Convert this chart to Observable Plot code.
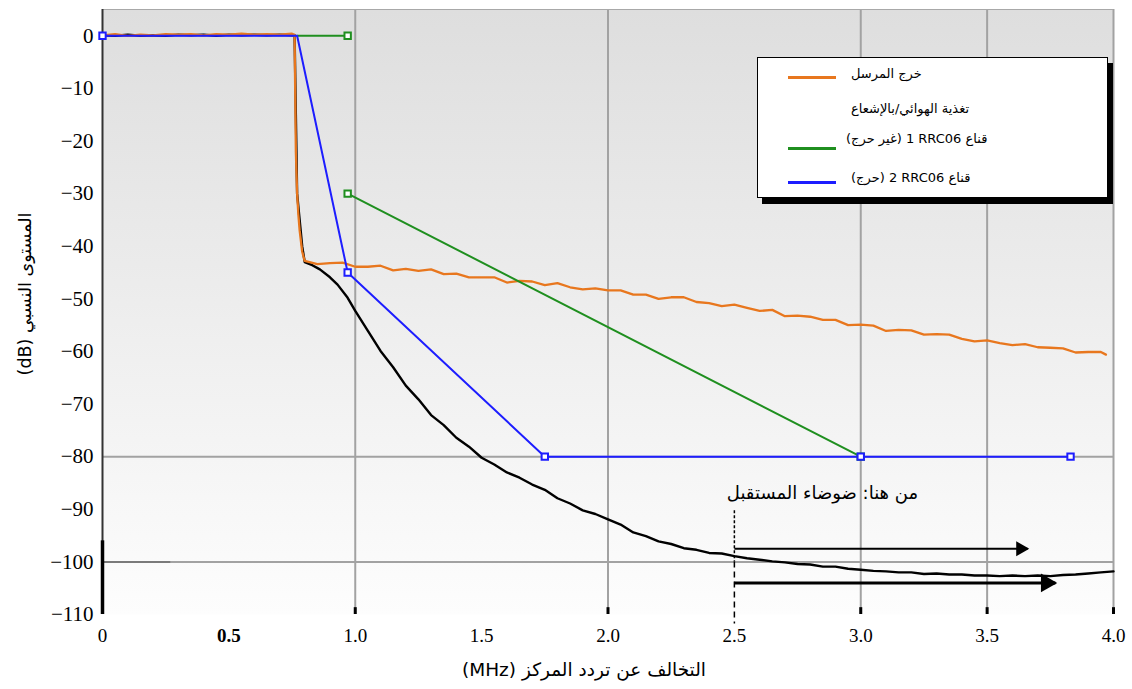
<!DOCTYPE html>
<html><head><meta charset="utf-8">
<script src="https://cdn.jsdelivr.net/npm/d3@7"></script>
<script src="https://cdn.jsdelivr.net/npm/@observablehq/plot@0.6"></script>
<style>
html,body{margin:0;padding:0;background:#fff;}
#wrap{position:relative;width:1132px;height:689px;overflow:hidden;}
#wrap svg text{font-family:"Liberation Serif","Times New Roman",serif;}
#legend{position:absolute;left:757px;top:57px;width:349px;height:139px;background:#fff;border:1px solid #000;box-shadow:5px 6px 0 #000;font-family:"DejaVu Sans",sans-serif;font-size:13px;color:#000;}
#legend .ln{position:absolute;height:3px;width:48px;}
#legend .tx{position:absolute;white-space:nowrap;line-height:18px;}
</style></head><body><div id="wrap"></div>
<script>
// ---------- data ----------
const xTicks = [0, 0.5, 1, 1.5, 2, 2.5, 3, 3.5, 4];
const yTicks = [0, -10, -20, -30, -40, -50, -60, -70, -80, -90, -100, -110];
const gridX = [1, 2, 3, 3.5, 4];
const gridY = [-80, -100];
const bottomTicks = [1, 2, 3, 3.5, 4];

// transmitter output / antenna feed (orange)
const orangeX = [0,0.05,0.1,0.15,0.2,0.25,0.3,0.35,0.4,0.45,0.5,0.55,0.6,0.65,0.7,0.75,0.76,0.765,0.77,0.775,0.78,0.79,
  0.8,0.85,0.9,0.95,1,1.05,1.1,1.15,1.2,1.25,1.3,1.35,1.4,1.45,1.5,1.55,1.6,1.65,1.7,1.75,1.8,1.85,1.9,1.95,
  2,2.05,2.1,2.15,2.2,2.25,2.3,2.35,2.4,2.45,2.5,2.55,2.6,2.65,2.7,2.75,2.8,2.85,2.9,2.95,
  3,3.05,3.1,3.15,3.2,3.25,3.3,3.35,3.4,3.45,3.5,3.55,3.6,3.65,3.7,3.75,3.8,3.85,3.9,3.95,3.97];
const orangeY = [0.1,0.3,0.0,0.2,0.1,0.3,0.2,0.3,0.1,0.3,0.2,0.4,0.2,0.3,0.2,0.4,0.2,-22,-30,-34,-37,-41,
  -42.8,-43.4,-43.2,-43.1,-43.9,-43.9,-43.7,-44.6,-44.3,-44.7,-44.4,-45.3,-45.2,-45.9,-45.9,-45.9,-46.9,-46.6,-46.7,-47.4,-47.0,-47.8,-48.2,-48.0,
  -48.4,-48.4,-49.2,-49.2,-50.0,-49.7,-49.7,-50.6,-50.8,-51.4,-51.1,-51.7,-52.3,-52.1,-53.3,-53.2,-53.4,-54.0,-54.0,-55.0,
  -54.9,-55.1,-56.1,-55.9,-56.0,-56.8,-56.7,-56.8,-57.6,-58.1,-57.9,-58.4,-58.8,-58.6,-59.2,-59.3,-59.4,-60.2,-60.1,-60.1,-60.6];

// measured spectrum after filtering (black)
const blackX = [0,0.05,0.1,0.15,0.2,0.25,0.3,0.35,0.4,0.45,0.5,0.55,0.6,0.65,0.7,0.75,0.76,0.765,0.77,0.78,0.79,
  0.8,0.83,0.86,0.9,0.93,0.97,1,1.05,1.1,1.15,1.2,1.25,1.3,1.35,1.4,1.45,1.5,1.55,1.6,1.65,1.7,1.75,1.8,1.85,1.9,1.95,
  2,2.05,2.1,2.15,2.2,2.25,2.3,2.35,2.4,2.45,2.5,2.55,2.6,2.65,2.7,2.75,2.8,2.85,2.9,2.95,
  3,3.05,3.1,3.15,3.2,3.25,3.3,3.35,3.4,3.45,3.5,3.55,3.6,3.65,3.7,3.75,3.8,3.85,3.9,3.95,4];
const blackY = [0.1,0.0,0.2,0.0,0.1,0.0,0.2,0.1,0.2,0.0,0.2,0.1,0.2,0.1,0.2,0.1,0.1,-15,-30,-35,-40,
  -43.0,-43.6,-44.4,-45.9,-47.3,-49.8,-52.3,-56.1,-59.9,-63.0,-66.5,-69.1,-72.1,-74.0,-76.4,-78.1,-80.2,-81.5,-83.0,-84.0,-85.3,-86.3,-87.9,-88.9,-90.2,-90.9,
  -91.9,-92.9,-94.4,-95.1,-96.1,-96.6,-97.4,-97.7,-98.3,-98.4,-98.9,-99.3,-99.6,-99.9,-100.1,-100.4,-100.5,-100.9,-100.9,-101.3,
  -101.5,-101.7,-101.8,-102.0,-102.0,-102.3,-102.2,-102.4,-102.4,-102.6,-102.6,-102.7,-102.6,-102.7,-102.6,-102.7,-102.5,-102.4,-102.2,-102.0,-101.8];

// RRC06 mask 1 (non-critical, green) – two segments
const greenX = [0.77, 0.97, 0.97, 3.0];
const greenY = [0, 0, -30, -80];
const greenSeg = [1, 1, 2, 2];
const greenMarkX = [0.97, 0.97, 3.0];
const greenMarkY = [0, -30, -80];

// RRC06 mask 2 (critical, blue)
const blueX = [0, 0.77, 0.97, 1.75, 3.0, 3.83];
const blueY = [0, 0, -45, -80, -80, -80];
const blueMarkX = [0, 0.97, 1.75, 3.0, 3.83];
const blueMarkY = [0, -45, -80, -80, -80];

// annotation
const noteText = "من هنا: ضوضاء المستقبل";
const noteX = [2.47];
const noteY = [-86.9];
const arrowX1 = [2.5, 2.5];
const arrowX2 = [3.66, 3.77];
const arrowY = [-97.5, -104];
const dashX = [2.5];

const xLabel = "التخالف عن تردد المركز (MHz)";
const yLabel = "المستوى النسبي (dB)";
const legendLabels = ["خرج المرسل", "تغذية الهوائي/بالإشعاع", "قناع RRC06 \u200F1 (غير حرج)", "قناع RRC06 \u200F2 (حرج)"];
const legendColors = ["#e8771e", null, "#1f8f1f", "#1d1dff"];

// ---------- build ----------
const C = {orange: "#e8771e", green: "#1f8f1f", blue: "#1d1dff", grid: "#a2a2a2"};
const orange = orangeX.map((x, i) => ({x, y: orangeY[i]}));
const black = blackX.map((x, i) => ({x, y: blackY[i]}));
const green = greenX.map((x, i) => ({x, y: greenY[i], seg: greenSeg[i]}));
const greenM = greenMarkX.map((x, i) => ({x, y: greenMarkY[i]}));
const blue = blueX.map((x, i) => ({x, y: blueY[i]}));
const blueM = blueMarkX.map((x, i) => ({x, y: blueMarkY[i]}));
const arrows = arrowX1.map((x1, i) => ({x1, x2: arrowX2[i], y: arrowY[i]}));
const notes = noteX.map((x, i) => ({x, y: noteY[i], text: noteText}));

const SERIF = '"Liberation Serif", "Times New Roman", serif';
const ARABIC = '"DejaVu Sans", sans-serif';
const fx = d => d === 0 ? "0" : d.toFixed(1);
const fy = d => d === 0 ? "0" : "\u2212" + Math.abs(d);

const chart = Plot.plot({
  width: 1132, height: 689,
  marginLeft: 102, marginRight: 19, marginTop: 9, marginBottom: 75,
  style: {fontFamily: SERIF, fontSize: "20px", color: "#000", background: "transparent", overflow: "visible"},
  x: {domain: [0, 4]},
  y: {domain: [-110, 5]},
  marks: [
    Plot.frame({fill: "url(#bg)", stroke: "none"}),
    Plot.ruleX(gridX, {stroke: C.grid, strokeWidth: 2}),
    Plot.ruleY(gridY, {stroke: C.grid, strokeWidth: 2}),
    Plot.ruleY([-100], {x1: 0, x2: 0.27, stroke: "#7a7a7a", strokeWidth: 2}),
    Plot.ruleY([5], {stroke: "#a8a8a8", strokeWidth: 1}),
    Plot.ruleX([0], {stroke: "#333", strokeWidth: 2}),
    Plot.ruleX([0], {y1: -96, y2: -110, stroke: "#000", strokeWidth: 3.5}),
    Plot.ruleX(bottomTicks, {y1: -110, y2: -108.7, stroke: "#000", strokeWidth: 3}),
    Plot.line(black, {x: "x", y: "y", stroke: "#000", strokeWidth: 2.4}),
    Plot.line(orange, {x: "x", y: "y", stroke: C.orange, strokeWidth: 2.3}),
    Plot.line(green, {x: "x", y: "y", z: "seg", stroke: C.green, strokeWidth: 2}),
    Plot.line(blue, {x: "x", y: "y", stroke: C.blue, strokeWidth: 2}),
    Plot.dot(greenM, {x: "x", y: "y", symbol: "square", r: 3.6, stroke: C.green, strokeWidth: 2, fill: "#fff"}),
    Plot.dot(blueM, {x: "x", y: "y", symbol: "square", r: 3.6, stroke: C.blue, strokeWidth: 2, fill: "#fff"}),
    Plot.ruleX(dashX, {y1: -90.3, y2: -100, stroke: "#000", strokeWidth: 1.5, strokeDasharray: "3,2"}),
    Plot.ruleX(dashX, {y1: -100, y2: -111.8, stroke: "#000", strokeWidth: 1.5, strokeDasharray: "6,4"}),
    Plot.link(arrows.slice(0, 1), {x1: "x1", x2: "x2", y1: "y", y2: "y", stroke: "#000", strokeWidth: 2}),
    Plot.link(arrows.slice(1), {x1: "x1", x2: "x2", y1: "y", y2: "y", stroke: "#000", strokeWidth: 3}),
    Plot.dot(arrows.slice(0, 1), {x: "x2", y: "y", symbol: "triangle", rotate: 90, r: 5.6, fill: "#000", stroke: "none", dx: -7}),
    Plot.dot(arrows.slice(1), {x: "x2", y: "y", symbol: "triangle", rotate: 90, r: 7, fill: "#000", stroke: "none", dx: -9}),
    Plot.text(notes, {x: "x", y: "y", text: "text", textAnchor: "start", fontSize: 18, fontFamily: ARABIC}),
    Plot.text([yLabel], {text: d => d, frameAnchor: "left", textAnchor: "middle", lineAnchor: "middle", rotate: -90, dx: -77, dy: -18, fontSize: 17.5, fontFamily: ARABIC}),
    Plot.text([xLabel], {text: d => d, frameAnchor: "bottom", textAnchor: "middle", lineAnchor: "middle", dx: -24, dy: 56, fontSize: 18.5, fontFamily: ARABIC}),
    Plot.axisX({ticks: xTicks, tickSize: 0, tickPadding: 14, tickFormat: fx, fontSize: 19, fontFamily: SERIF, label: null}),
    Plot.axisY({ticks: yTicks, tickSize: 0, tickPadding: 9, tickFormat: fy, fontSize: 21, fontFamily: SERIF, label: null})
  ]
});

// gradient background
const svg = d3.select(chart);
const defs = svg.insert("defs", ":first-child");
const g = defs.append("linearGradient").attr("id", "bg").attr("x1", 0).attr("y1", 0).attr("x2", 0).attr("y2", 1);
g.append("stop").attr("offset", "0%").attr("stop-color", "#dedede");
g.append("stop").attr("offset", "100%").attr("stop-color", "#fdfdfd");

// fonts
svg.selectAll('g[aria-label="x-axis tick label"] text, g[aria-label="y-axis tick label"] text').style("font-family", SERIF);
svg.selectAll('g[aria-label="text"] text').style("font-family", ARABIC);
// axis titles: Arabic, right-to-left
svg.selectAll('g[aria-label="text"] text').filter(function() { return this.textContent === yLabel || this.textContent === xLabel; })
  .attr("direction", "rtl").style("unicode-bidi", "embed");
svg.selectAll('g[aria-label="x-axis tick label"] text').filter(function() { return this.textContent === "0.5"; })
  .attr("font-weight", "bold");

const wrap = document.getElementById("wrap");
wrap.appendChild(chart);

// legend overlay
const layout = [
  {line: 18, text: 7, left: 93},
  {line: null, text: 42, left: 93},
  {line: 89, text: 72, left: 88},
  {line: 123, text: 111, left: 93}
];
const leg = d3.select(wrap).append("div").attr("id", "legend");
legendLabels.forEach((lab, i) => {
  const L = layout[i];
  if (legendColors[i]) leg.append("div").attr("class", "ln").style("left", "30px").style("top", L.line + "px").style("background", legendColors[i]);
  leg.append("span").attr("class", "tx").attr("dir", "rtl").style("left", L.left + "px").style("top", L.text + "px").text(lab);
});
</script></body></html>
